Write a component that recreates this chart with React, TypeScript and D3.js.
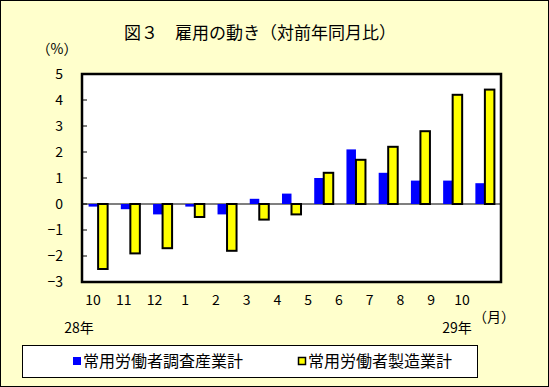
import React from "react";
import * as d3 from "d3";

const months = ["10", "11", "12", "1", "2", "3", "4", "5", "6", "7", "8", "9", "10"];
const allIndustries = [-0.1, -0.2, -0.4, -0.1, -0.4, 0.2, 0.4, 1.0, 2.1, 1.2, 0.9, 0.9, 0.8];
const manufacturing = [-2.5, -1.9, -1.7, -0.5, -1.8, -0.6, -0.4, 1.2, 1.7, 2.2, 2.8, 4.2, 4.4];
const yTicks = [5, 4, 3, 2, 1, 0, -1, -2, -3];
const seriesNames = ["常用労働者調査産業計", "常用労働者製造業計"];

const W = 549;
const H = 387;
const font = "'Noto Sans CJK JP', 'Noto Sans', sans-serif";

const App = () => {
  const plot = { left: 82, right: 501, top: 74, bottom: 282 };
  const keys = months.map((m, i) => i + ":" + m);

  const y = d3.scaleLinear().domain([-3, 5]).range([plot.bottom, plot.top]);
  const x0 = d3
    .scaleBand<string>()
    .domain(keys)
    .range([plot.left, plot.right])
    .paddingInner(0.41)
    .paddingOuter(0.205);
  const x1 = d3.scaleBand<number>().domain([0, 1]).range([0, x0.bandwidth()]);
  // the month labels sit on their own slightly narrower spacing
  const xl = d3.scalePoint<string>().domain(keys).range([93, 462]);

  const fmt = (v: number) => (v < 0 ? "\u2212" + Math.abs(v) : String(v));

  return (
    <svg
      width={W}
      height={H}
      style={{ position: "absolute", left: 0, top: 0, fontFamily: font }}
    >
      <rect x={0.5} y={0.5} width={W - 1} height={H - 1} fill="#FFFFCC" stroke="#000" />

      <text x={260} y={39} fontSize={17} textAnchor="middle" fill="#000">
        図３　雇用の動き（対前年同月比）
      </text>
      <text x={57} y={54} fontSize={14} textAnchor="middle" fill="#000">
        （%）
      </text>

      <rect
        x={plot.left}
        y={plot.top}
        width={plot.right - plot.left}
        height={plot.bottom - plot.top}
        fill="#fff"
      />

      {yTicks.map((t) => (
        <g key={t}>
          <line x1={plot.left} x2={plot.left + 5} y1={y(t)} y2={y(t)} stroke="#000" />
          <text x={63} y={y(t) + 5} fontSize={14} textAnchor="end" fill="#000">
            {fmt(t)}
          </text>
        </g>
      ))}

      <line x1={plot.left} x2={plot.right} y1={y(0)} y2={y(0)} stroke="#000" strokeWidth={1.2} />

      {keys.map((k, i) => (
        <g key={k}>
          <rect
            x={(x0(k) as number) + (x1(0) as number)}
            y={y(Math.max(0, allIndustries[i]))}
            width={x1.bandwidth()}
            height={Math.abs(y(allIndustries[i]) - y(0))}
            fill="#0000FF"
          />
          <rect
            x={(x0(k) as number) + (x1(1) as number)}
            y={y(Math.max(0, manufacturing[i]))}
            width={x1.bandwidth()}
            height={Math.abs(y(manufacturing[i]) - y(0))}
            fill="#FFFF00"
            stroke="#000"
            strokeWidth={2}
          />
        </g>
      ))}

      <rect
        x={plot.left}
        y={plot.top}
        width={plot.right - plot.left}
        height={plot.bottom - plot.top}
        fill="none"
        stroke="#000"
        strokeWidth={2.5}
      />

      {keys.map((k, i) => (
        <text key={k} x={xl(k)} y={305} fontSize={14} textAnchor="middle" fill="#000">
          {months[i]}
        </text>
      ))}
      <text x={79} y={333} fontSize={14} textAnchor="middle" fill="#000">
        28年
      </text>
      <text x={457} y={333} fontSize={14} textAnchor="middle" fill="#000">
        29年
      </text>
      <text x={494} y={322} fontSize={14} textAnchor="middle" fill="#000">
        （月）
      </text>

      <rect x={22.5} y={345.5} width={455} height={32} fill="#fff" stroke="#000" />
      <rect x={73} y={357} width={8} height={8} fill="#0000FF" />
      <text x={83} y={367} fontSize={16} fill="#000">
        {seriesNames[0]}
      </text>
      <rect x={298.5} y={357.5} width={7} height={7} fill="#FFFF00" stroke="#000" strokeWidth={1.5} />
      <text x={308} y={367} fontSize={16} fill="#000">
        {seriesNames[1]}
      </text>
    </svg>
  );
};

export default App;
